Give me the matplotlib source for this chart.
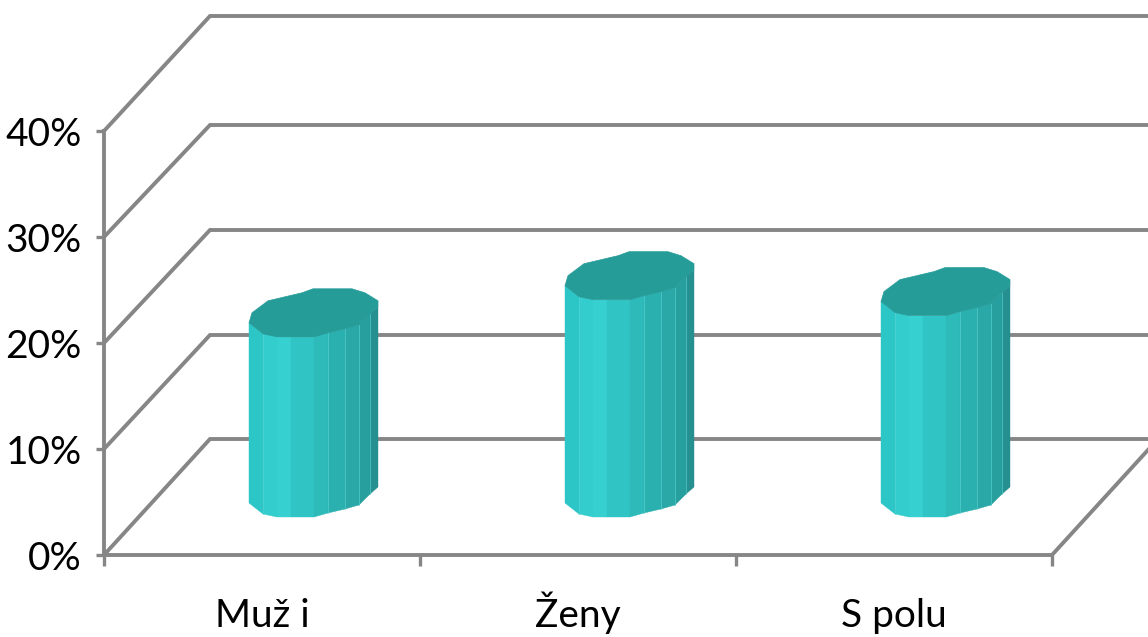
import matplotlib
matplotlib.use('Agg')
import matplotlib.pyplot as plt
from matplotlib.patches import Polygon

plt.rcParams['font.family'] = ['Lato', 'DejaVu Sans']

# --- data ---
categories = ['Muž i', 'Ženy', 'S polu']
values = [0.17, 0.205, 0.19]
y_ticks = [0, 0.1, 0.2, 0.3, 0.4]
y_labels = ['0%', '10%', '20%', '30%', '40%']

# --- shape of the 3D look, in pixels ---
W, H = 1148, 637
LEFT, RIGHT, BOTTOM, TOP = 104, 1052, 555, 131
CAT_W = (RIGHT - LEFT) / 3
PX_Y = (BOTTOM - TOP) / 0.4
DEPTH_X = 106
depth_y = [116, 114, 113, 112, 115]   # how far up the back wall sits, per gridline
BASE_X, BASE_Y = 52, 62   # foot of the bar centre, from the front floor edge

GRID = '#868686'
TOP_COL = '#269c99'
# front edge of the cylinder, offset from its centre
front_dx = [-65, -51, -37, -23, 0, 14, 31, 45, 56, 64]
front_dy = [10, 21, 24, 24, 24, 20, 16, 12, 1, -6]
strip_cols = ['#2dc6c6', '#33cdcd', '#36d0d0', '#30c4c4', '#2fbaba',
              '#2bb0b0', '#2aa8a8', '#279f9f', '#268f8f']
light_edges = [1, 5, 6, 7, 8]
back_dx = [64, 51, 38, -1, -12, -46, -62]
back_dy = [-12, -20, -24, -24, -20, -12, 0]

fig = plt.figure(figsize=(W / 100, H / 100), dpi=100)
ax = fig.add_axes([LEFT / W, 1 - BOTTOM / H, (RIGHT - LEFT) / W, (BOTTOM - TOP) / H])
ax.set_xlim(-0.5, 2.5)
ax.set_ylim(0, 0.4)


def pt(i, v, ox, oy):
    # category + value + pixel offset (oy goes down) -> data coords
    return (i + (ox + BASE_X) / CAT_W, v - oy / PX_Y)


# walls
for t, d in zip(y_ticks, depth_y):
    ax.plot([-0.5, -0.5 + DEPTH_X / CAT_W, 2.5 + DEPTH_X / CAT_W],
            [t, t + d / PX_Y, t + d / PX_Y],
            color=GRID, lw=2.8, clip_on=False, zorder=1, solid_joinstyle='miter')
ax.plot([2.5, 2.5 + DEPTH_X / CAT_W], [0, depth_y[0] / PX_Y], color=GRID, lw=2.8,
        clip_on=False, zorder=1)

# cylinders
foot = BASE_Y / PX_Y
for i, v in enumerate(values):
    for k, col in enumerate(strip_cols):
        x0, x1 = front_dx[k], front_dx[k + 1]
        y0, y1 = front_dy[k], front_dy[k + 1]
        ax.add_patch(Polygon([pt(i, v + foot, x0, y0), pt(i, v + foot, x1, y1),
                              pt(i, foot, x1, y1), pt(i, foot, x0, y0)],
                             closed=True, fc=col, ec=col, lw=0.3, zorder=3, clip_on=False))
    for k in light_edges:
        a, b = pt(i, v + foot, front_dx[k], front_dy[k]), pt(i, foot, front_dx[k], front_dy[k])
        ax.plot([a[0], b[0]], [a[1], b[1]], color='#55d0d0', lw=0.6, alpha=0.8, zorder=3.5, clip_on=False)
    top = [pt(i, v + foot, front_dx[k], front_dy[k]) for k in range(len(front_dx))]
    top += [pt(i, v + foot, back_dx[k], back_dy[k]) for k in range(len(back_dx))]
    ax.add_patch(Polygon(top, closed=True, fc=TOP_COL, ec=TOP_COL, lw=0.5, zorder=4, clip_on=False))

# axes
for s in ['top', 'right']:
    ax.spines[s].set_visible(False)
for s in ['left', 'bottom']:
    ax.spines[s].set_color(GRID)
    ax.spines[s].set_linewidth(2.8)
ax.set_yticks(y_ticks)
ax.set_yticklabels(y_labels, fontsize=28, color='black')
ax.tick_params(axis='y', length=6, width=2.4, color=GRID, pad=10)
ax.set_xticks([-0.5, 0.5, 1.5, 2.5])
ax.set_xticklabels([])
ax.set_xticks([0, 1, 2], minor=True)
ax.set_xticklabels(categories, minor=True, fontsize=28, va='baseline')
ax.tick_params(axis='x', which='major', length=8, width=2.4, color=GRID)
ax.tick_params(axis='x', which='minor', length=0, pad=52)

fig.savefig('out.png', dpi=100)
